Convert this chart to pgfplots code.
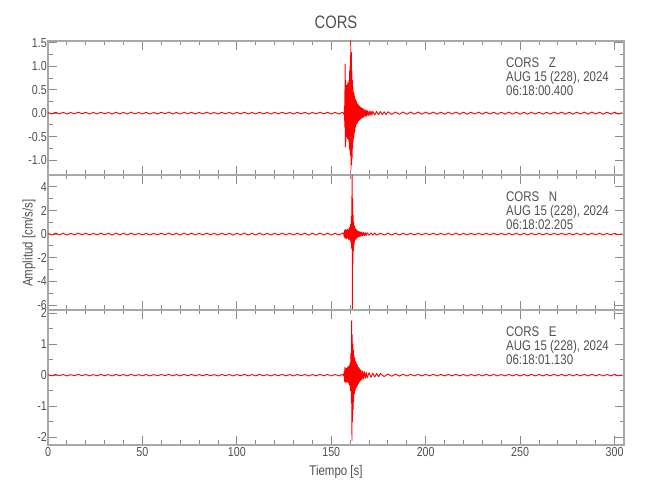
\documentclass[border=0pt]{standalone}
\usepackage{pgfplots}
\pgfplotsset{compat=1.18}
\usepackage{fontspec}
\setmainfont{Liberation Sans}[FakeStretch=0.82]
\definecolor{axgray}{HTML}{A8A8A8}
\definecolor{tkgray}{HTML}{8A8A8A}
\definecolor{txgray}{HTML}{505050}
\pgfplotsset{
  seis/.style={
    scale only axis, width=576pt, height=135pt,
    xmin=0, xmax=305, xtick={0,50,...,300}, minor x tick num=4,
    axis line style={axgray, line width=1.3pt},
    major tick style={tkgray, line width=0.9pt},
    minor tick style={tkgray, line width=0.9pt},
    major tick length=9pt, minor tick length=4.5pt,
    tick align=inside,
    ticklabel style={font=\fontsize{13}{13}\selectfont, text=txgray},
    /pgf/number format/assume math mode=true,
    yticklabel style={inner sep=1pt},
    xticklabel style={inner sep=2pt},
    clip=false,
  },
  trace/.style={red, line width=0.9pt, line join=round},
}
\begin{document}
\begin{tikzpicture}[x=1pt,y=1pt]
\path[use as bounding box] (0,0) rectangle (650,500);
% Z
\begin{axis}[seis, at={(48pt,325pt)}, anchor=south west, height=134pt,
  ymin=-1.32, ymax=1.54, ytick={-1,-0.5,...,1.5}, minor y tick num=1,
  xticklabels={},
  yticklabel style={/pgf/number format/.cd, fixed, fixed zerofill, precision=1}]
\addplot[trace] coordinates {
(0,0.012)(2,-0.018)(4,0.02)(6,-0.015)(8,0.017)(10,-0.02)(12,0.014)(14,-0.016)(16,0.021)(18,-0.013)
(20,0.018)(22,-0.019)(24,0.015)(26,-0.017)(28,0.02)(30,-0.014)(32,0.016)(34,-0.021)(36,0.019)(38,-0.015)
(40,0.017)(42,-0.018)(44,0.022)(46,-0.016)(48,0.014)(50,-0.019)(52,0.018)(54,-0.02)(56,0.015)(58,-0.017)
(60,0.019)(62,-0.014)(64,0.021)(66,-0.018)(68,0.016)(70,-0.02)(72,0.018)(74,-0.015)(76,0.02)(78,-0.019)
(80,0.016)(82,-0.017)(84,0.022)(86,-0.016)(88,0.015)(90,-0.02)(92,0.019)(94,-0.016)(96,0.018)(98,-0.021)
(100,0.017)(102,-0.015)(104,0.02)(106,-0.018)(108,0.016)(110,-0.019)(112,0.021)(114,-0.017)(116,0.015)(118,-0.02)
(120,0.018)(122,-0.016)(124,0.02)(126,-0.018)(128,0.017)(130,-0.02)(132,0.019)(134,-0.016)(136,0.018)(138,-0.021)
(140,0.016)(142,-0.018)(144,0.02)(146,-0.017)(148,0.019)(150,-0.02)(152,0.018)(154,-0.019)(156,0.02)
(156.8,-0.03)(157.0,0.15)(157.15,-0.3)(157.3,1.05)(157.45,-0.72)(157.6,0.7)(157.75,-0.6)(157.9,0.55)(158.05,-0.5)
(158.2,0.6)(158.35,-0.45)(158.5,0.5)(158.65,-0.55)(158.8,0.65)(158.95,-0.5)(159.1,0.55)(159.25,-0.6)(159.4,0.7)
(159.55,-0.75)(159.7,0.9)(159.85,-0.8)(160.0,1.0)(160.15,-0.9)(160.3,1.55)(160.45,-1.2)(160.6,1.3)(160.75,-1.1)
(160.9,0.9)(161.05,-0.95)(161.2,0.7)(161.35,-0.75)(161.5,0.55)(161.65,-0.6)(161.8,0.45)(161.95,-0.5)(162.1,0.4)
(162.25,-0.42)(162.4,0.35)(162.55,-0.38)(162.7,0.3)(162.85,-0.3)(163,0.28)(163.2,-0.25)(163.4,0.24)(163.6,-0.22)
(163.8,0.2)(164,-0.2)(164.3,0.18)(164.6,-0.16)(164.9,0.15)(165.2,-0.14)(165.5,0.13)(165.8,-0.12)(166.1,0.11)
(166.4,-0.1)(166.7,0.1)(167,-0.09)(167.4,0.08)(167.8,-0.08)(168.2,0.07)(168.6,-0.065)(169,0.06)(169.5,-0.055)
(170,0.05)(170.5,-0.05)(171,0.045)(171.5,-0.045)(172,0.04)(173,-0.04)(174,0.038)(175,-0.035)(176,0.035)
(177,-0.033)(178,0.03)(179,-0.03)(180,0.03)(182,-0.028)(184,0.027)(186,-0.026)(188,0.025)
(190,-0.025)(192,0.024)(194,-0.022)(196,0.023)(198,-0.021)(200,0.022)(202,-0.02)(204,0.023)(206,-0.021)(208,0.02)
(210,-0.022)(212,0.021)(214,-0.02)(216,0.022)(218,-0.021)(220,0.02)(222,-0.023)(224,0.021)(226,-0.02)(228,0.022)
(230,-0.021)(232,0.023)(234,-0.02)(236,0.021)(238,-0.022)(240,0.02)(242,-0.021)(244,0.022)(246,-0.02)(248,0.021)
(250,-0.023)(252,0.02)(254,-0.021)(256,0.022)(258,-0.02)(260,0.021)(262,-0.022)(264,0.02)(266,-0.021)(268,0.023)
(270,-0.02)(272,0.022)(274,-0.021)(276,0.02)(278,-0.022)(280,0.021)(282,-0.02)(284,0.022)(286,-0.021)(288,0.023)
(290,-0.02)(292,0.021)(294,-0.022)(296,0.02)(298,-0.021)(300,0.022)(302,-0.02)(304,0.01)
};
\node[anchor=north west, inner sep=0, align=left, text=txgray,
  font=\fontsize{14}{14.2}\selectfont] at (rel axis cs:0.795,0.88)
  {CORS\ \ \ Z\\AUG 15 (228), 2024\\06:18:00.400};
\end{axis}
% N
\begin{axis}[seis, at={(48pt,190pt)}, anchor=south west,
  ymin=-6.42, ymax=5, ytick={-6,-4,...,4}, minor y tick num=1,
  xticklabels={}]
\addplot[trace] coordinates {
(0,0.05)(2,-0.07)(4,0.08)(6,-0.06)(8,0.07)(10,-0.08)(12,0.06)(14,-0.065)(16,0.085)(18,-0.055)
(20,0.07)(22,-0.075)(24,0.06)(26,-0.07)(28,0.08)(30,-0.06)(32,0.065)(34,-0.085)(36,0.075)(38,-0.06)
(40,0.07)(42,-0.07)(44,0.085)(46,-0.065)(48,0.06)(50,-0.075)(52,0.07)(54,-0.08)(56,0.06)(58,-0.07)
(60,0.075)(62,-0.055)(64,0.085)(66,-0.07)(68,0.065)(70,-0.08)(72,0.07)(74,-0.06)(76,0.08)(78,-0.075)
(80,0.065)(82,-0.07)(84,0.085)(86,-0.065)(88,0.06)(90,-0.08)(92,0.075)(94,-0.065)(96,0.07)(98,-0.085)
(100,0.07)(102,-0.06)(104,0.08)(106,-0.07)(108,0.065)(110,-0.075)(112,0.085)(114,-0.07)(116,0.06)(118,-0.08)
(120,0.07)(122,-0.065)(124,0.08)(126,-0.07)(128,0.07)(130,-0.08)(132,0.075)(134,-0.065)(136,0.07)(138,-0.085)
(140,0.065)(142,-0.07)(144,0.08)(146,-0.07)(148,0.075)(150,-0.08)(152,0.07)(154,-0.075)(156,0.08)
(156.5,0.08)(156.8,-0.2)(157.0,0.3)(157.2,-0.35)(157.4,0.4)(157.6,-0.3)(157.8,0.35)(158.0,-0.4)(158.2,0.3)
(158.4,-0.35)(158.6,0.4)(158.8,-0.3)(159.0,0.35)(159.2,-0.45)(159.4,0.5)(159.6,-0.4)(159.8,0.6)(160.0,-0.5)
(160.2,0.8)(160.4,-0.7)(160.6,1.5)(160.8,-1.2)(161.0,5.0)(161.15,-6.4)(161.3,3.0)(161.45,-2.5)(161.6,1.6)
(161.75,-1.4)(161.9,1.0)(162.05,-0.9)(162.2,0.7)(162.4,-0.6)(162.6,0.5)(162.8,-0.45)(163.0,0.4)(163.2,-0.38)
(163.4,0.35)(163.6,-0.3)(163.8,0.28)(164.0,-0.26)(164.3,0.24)(164.6,-0.22)(164.9,0.2)(165.2,-0.19)(165.5,0.18)
(165.8,-0.17)(166.2,0.16)(166.6,-0.15)(167,0.14)(167.5,-0.13)(168,0.12)(168.5,-0.12)(169,0.11)(170,-0.1)
(171,0.1)(172,-0.09)(173,0.09)(174,-0.085)(176,0.08)(178,-0.08)(180,0.075)(182,-0.075)(184,0.07)(186,-0.075)(188,0.07)
(190,-0.075)(192,0.07)(194,-0.065)(196,0.07)(198,-0.065)(200,0.07)(202,-0.06)(204,0.07)(206,-0.065)(208,0.06)
(210,-0.065)(212,0.065)(214,-0.06)(216,0.065)(218,-0.065)(220,0.06)(222,-0.07)(224,0.065)(226,-0.06)(228,0.065)
(230,-0.065)(232,0.07)(234,-0.06)(236,0.065)(238,-0.065)(240,0.06)(242,-0.065)(244,0.065)(246,-0.06)(248,0.065)
(250,-0.07)(252,0.06)(254,-0.065)(256,0.065)(258,-0.06)(260,0.065)(262,-0.065)(264,0.06)(266,-0.065)(268,0.07)
(270,-0.06)(272,0.065)(274,-0.065)(276,0.06)(278,-0.065)(280,0.065)(282,-0.06)(284,0.065)(286,-0.065)(288,0.07)
(290,-0.06)(292,0.065)(294,-0.065)(296,0.06)(298,-0.065)(300,0.065)(302,-0.06)(304,0.03)
};
\node[anchor=north west, inner sep=0, align=left, text=txgray,
  font=\fontsize{14}{14.2}\selectfont] at (rel axis cs:0.795,0.88)
  {CORS\ \ \ N\\AUG 15 (228), 2024\\06:18:02.205};
\end{axis}
% E
\begin{axis}[seis, at={(48pt,55pt)}, anchor=south west,
  ymin=-2.25, ymax=2.1, ytick={-2,-1,...,2}, minor y tick num=1]
\addplot[trace] coordinates {
(0,0.015)(2,-0.022)(4,0.025)(6,-0.018)(8,0.021)(10,-0.025)(12,0.017)(14,-0.02)(16,0.026)(18,-0.016)
(20,0.022)(22,-0.024)(24,0.018)(26,-0.021)(28,0.025)(30,-0.017)(32,0.02)(34,-0.026)(36,0.023)(38,-0.018)
(40,0.021)(42,-0.022)(44,0.027)(46,-0.02)(48,0.017)(50,-0.023)(52,0.022)(54,-0.025)(56,0.018)(58,-0.021)
(60,0.023)(62,-0.017)(64,0.026)(66,-0.022)(68,0.02)(70,-0.025)(72,0.022)(74,-0.018)(76,0.025)(78,-0.023)
(80,0.02)(82,-0.021)(84,0.027)(86,-0.02)(88,0.018)(90,-0.025)(92,0.023)(94,-0.02)(96,0.022)(98,-0.026)
(100,0.021)(102,-0.018)(104,0.025)(106,-0.022)(108,0.02)(110,-0.023)(112,0.026)(114,-0.021)(116,0.018)(118,-0.025)
(120,0.022)(122,-0.02)(124,0.025)(126,-0.022)(128,0.021)(130,-0.025)(132,0.023)(134,-0.02)(136,0.022)(138,-0.026)
(140,0.02)(142,-0.022)(144,0.025)(146,-0.021)(148,0.023)(150,-0.025)(152,0.022)(154,-0.023)(156,0.025)
(156.6,-0.03)(156.8,0.12)(157.0,-0.2)(157.2,0.25)(157.4,-0.22)(157.6,0.2)(157.8,-0.25)(158.0,0.22)(158.2,-0.2)
(158.4,0.24)(158.6,-0.22)(158.8,0.26)(159.0,-0.24)(159.2,0.28)(159.4,-0.3)(159.6,0.32)(159.8,-0.35)(160.0,0.4)
(160.2,-0.5)(160.4,0.7)(160.6,-0.9)(160.8,1.75)(160.95,-2.1)(161.1,1.3)(161.25,-1.5)(161.4,1.0)(161.55,-1.1)
(161.7,0.8)(161.85,-0.85)(162.0,0.65)(162.2,-0.6)(162.4,0.55)(162.6,-0.5)(162.8,0.45)(163.0,-0.42)(163.2,0.4)
(163.4,-0.38)(163.6,0.35)(163.8,-0.33)(164.0,0.3)(164.3,-0.28)(164.6,0.25)(164.9,-0.22)(165.2,0.2)(165.5,-0.18)
(165.8,0.16)(166.2,-0.14)(166.6,0.13)(167,-0.12)(167.5,0.11)(168,-0.1)(168.5,0.09)(169,-0.085)(170,0.08)
(171,-0.07)(172,0.065)(173,-0.06)(174,0.055)(175,-0.05)(176,0.05)(178,-0.045)(180,0.04)(182,-0.035)(184,0.035)
(186,-0.03)(188,0.03)
(190,-0.028)(192,0.027)(194,-0.025)(196,0.026)(198,-0.024)(200,0.025)(202,-0.023)(204,0.026)(206,-0.024)(208,0.023)
(210,-0.025)(212,0.024)(214,-0.023)(216,0.025)(218,-0.024)(220,0.023)(222,-0.026)(224,0.024)(226,-0.023)(228,0.025)
(230,-0.024)(232,0.026)(234,-0.023)(236,0.024)(238,-0.025)(240,0.023)(242,-0.024)(244,0.025)(246,-0.023)(248,0.024)
(250,-0.026)(252,0.023)(254,-0.024)(256,0.025)(258,-0.023)(260,0.024)(262,-0.025)(264,0.023)(266,-0.024)(268,0.026)
(270,-0.023)(272,0.025)(274,-0.024)(276,0.023)(278,-0.025)(280,0.024)(282,-0.023)(284,0.025)(286,-0.024)(288,0.026)
(290,-0.023)(292,0.024)(294,-0.025)(296,0.023)(298,-0.024)(300,0.025)(302,-0.023)(304,0.012)
};
\node[anchor=north west, inner sep=0, align=left, text=txgray,
  font=\fontsize{14}{14.2}\selectfont] at (rel axis cs:0.795,0.88)
  {CORS\ \ \ E\\AUG 15 (228), 2024\\06:18:01.130};
\end{axis}
\node[text=txgray, font=\fontsize{18}{18}\selectfont] at (336,478) {CORS};
\node[text=txgray, font=\fontsize{14}{14}\selectfont] at (336,28) {Tiempo [s]};
\node[text=txgray, font=\fontsize{14}{14}\selectfont, rotate=90] at (29,257) {Amplitud [cm/s/s]};
\end{tikzpicture}
\end{document}
